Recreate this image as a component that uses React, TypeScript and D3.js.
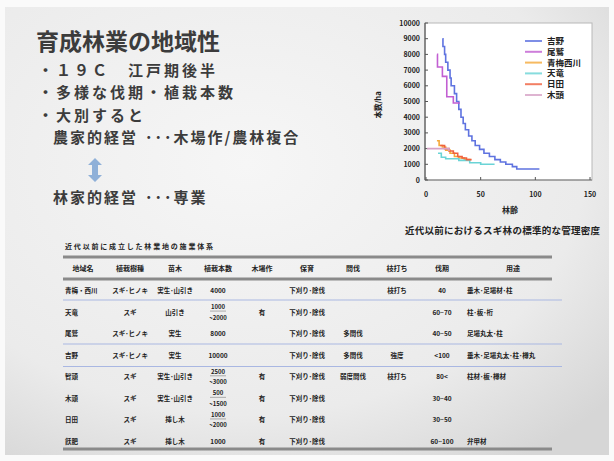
import React from "react";
import * as d3 from "d3";

const W = 614, H = 461;
const JP = "'Noto Sans CJK JP', 'Noto Sans', sans-serif";

// ---- chart data ----
const seriesNames = ["吉野", "尾鷲", "青梅西川", "天竜", "日田", "木頭"];
const seriesColors = ["#5f73e0", "#c25fd2", "#f5a93a", "#6ad4d6", "#f0603e", "#d7a2c6"];
const yoshino: [number, number][] = [[15, 9000], [15.5, 8500], [17, 8000], [18, 7500], [20, 7000], [22, 6500], [23, 6000], [26, 5500], [28, 5000], [30, 4500], [32, 4000], [34, 3600], [36, 3200], [39, 2800], [42, 2500], [45, 2200], [49, 1950], [53, 1700], [58, 1500], [63, 1300], [68, 1150], [73, 1000], [79, 850], [83, 700], [103, 650]];
const owase: [number, number][] = [[10, 8000], [10.5, 7200], [15, 6600], [19, 5300], [25, 4900], [31, 4900]];
const omeNishikawa: [number, number][] = [[10, 2500], [12, 2200], [15, 2100], [18, 1900], [22, 1700], [26, 1500], [30, 1400], [35, 1300], [40, 1250]];
const tenryu: [number, number][] = [[11, 1700], [14, 1450], [18, 1350], [30, 1250], [40, 1100], [50, 1000], [62, 950]];
const hita: [number, number][] = [[13, 2200], [17, 2000], [21, 1850], [25, 1700], [29, 1500], [33, 1400], [37, 1300], [41, 1250]];
const kito: [number, number][] = [[1, 2000], [18, 2000], [21, 1850]];
const seriesData = [yoshino, owase, omeNishikawa, tenryu, hita, kito];
const yTicks = [0, 1000, 2000, 3000, 4000, 5000, 6000, 7000, 8000, 9000, 10000];
const xTicks = [0, 50, 100, 150];

// ---- table data ----
const tableCaption = "近代以前に成立した林業地の施業体系";
const headers = ["地域名", "植栽樹種", "苗木", "植栽本数", "木場作", "保育", "間伐", "枝打ち", "伐期", "用途"];
const colRegion = ["青梅・西川", "天竜", "尾鷲", "吉野", "智頭", "木頭", "日田", "飫肥"];
const colSpecies = ["スギ･ヒノキ", "スギ", "スギ･ヒノキ", "スギ･ヒノキ", "スギ", "スギ", "スギ", "スギ"];
const colSeedling = ["実生･山引き", "山引き", "実生", "実生", "実生･山引き", "実生･山引き", "挿し木", "挿し木"];
const colDensity = ["4000", "1000|~2000", "8000", "10000", "2500|~3000", "500|~1500", "1000|~2000", "1000"];
const colKoba = ["", "有", "", "", "有", "有", "有", "有"];
const colCare = ["下刈り･除伐", "下刈り･除伐", "下刈り･除伐", "下刈り･除伐", "下刈り･除伐", "下刈り･除伐", "下刈り･除伐", "下刈り･除伐"];
const colThin = ["", "", "多間伐", "多間伐", "弱度間伐", "", "", ""];
const colPrune = ["枝打ち", "", "", "強度", "枝打ち", "", "", ""];
const colRotation = ["40", "60~70", "40~50", "<100", "80<", "30~40", "30~50", "60~100"];
const colUse = ["垂木･足場材･柱", "柱･板･桁", "足場丸太･柱", "垂木･足場丸太･柱･樽丸", "柱材･板･樽材", "", "", "弁甲材"];

export default function App() {
  // chart scales
  const x = d3.scaleLinear().domain([0, 150]).range([426, 590]);
  const y = d3.scaleLinear().domain([0, 10000]).range([180, 23]);
  const line = d3.line<[number, number]>().x(d => x(d[0])).y(d => y(d[1])).curve(d3.curveStepAfter);

  // table layout
  const colX = [83, 130, 175, 218, 262, 307, 353, 397, 442, 513];
  const rowY = d3.scalePoint<number>().domain(d3.range(8)).range([290.5, 441.5]);
  const cols = [colRegion, colSpecies, colSeedling, colDensity, colKoba, colCare, colThin, colPrune, colRotation, colUse];

  const txt = "#3c3c3c";
  const bigText = (s: string, xx: number, yy: number, size: number, ls = 0) => (
    <text x={xx} y={yy} fontSize={size} letterSpacing={ls} fontFamily={JP} fontWeight={700} fill={txt}>{s}</text>
  );

  return (
    <svg width={W} height={H} style={{ position: "absolute", left: 0, top: 0 }}>
      <defs>
        <radialGradient id="bg" cx="40%" cy="35%" r="80%">
          <stop offset="0%" stopColor="#f6f6f6" />
          <stop offset="70%" stopColor="#ebebeb" />
          <stop offset="100%" stopColor="#d6d6d6" />
        </radialGradient>
      </defs>
      <rect x={0} y={0} width={W} height={H} fill="#fafafa" />
      <rect x={5} y={7} width={W - 10} height={H - 13} fill="url(#bg)" />

      {/* left text block */}
      {bigText("育成林業の地域性", 36, 50, 23)}
      {bigText("・１９Ｃ　江戸期後半", 38, 76, 15, 3)}
      {bigText("・多様な伐期・植栽本数", 38, 98, 15, 3)}
      {bigText("・大別すると", 38, 120.5, 15, 3)}
      {bigText("農家的経営", 53, 143, 15, 2)}
      {bigText("･･･木場作/農林複合", 145, 143, 15, 2)}
      {bigText("林家的経営", 53, 203, 15, 2)}
      {bigText("･･･専業", 145, 203, 15, 2)}
      <path d="M95,158 L102,165 L98,165 L98,175 L102,175 L95,182 L88,175 L92,175 L92,165 L88,165 Z" fill="#8fb0d8" />

      {/* chart */}
      <rect x={x(0) - 1} y={y(10000)} width={x(150) - x(0) + 3} height={y(0) - y(10000)} fill="#ffffff" stroke="#b8b8b8" strokeWidth={1} />
      <line x1={x(0) - 1} x2={x(0) - 1} y1={y(10000)} y2={y(0)} stroke="#555" strokeWidth={1.2} />
      <line x1={x(0) - 1} x2={x(150) + 2} y1={y(0)} y2={y(0)} stroke="#777" strokeWidth={1.2} />
      {yTicks.map(t => (
        <g key={"yt" + t}>
          <line x1={x(0) - 1} x2={x(0) + 2} y1={y(t)} y2={y(t)} stroke="#555" />
          <text x={420} y={y(t) + 2.5} textAnchor="end" fontSize={7} fontWeight={700} fontFamily={JP} fill="#222">{t}</text>
        </g>
      ))}
      {xTicks.map(t => (
        <g key={"xt" + t}>
          <line x1={x(t)} x2={x(t)} y1={y(0)} y2={y(0) - 3} stroke="#555" />
          <text x={x(t)} y={197} textAnchor="middle" fontSize={7} fontWeight={700} fontFamily={JP} fill="#222">{t}</text>
        </g>
      ))}
      <text x={510} y={213} textAnchor="middle" fontSize={8} fontWeight={700} fontFamily={JP} fill="#222">林齢</text>
      <text transform="translate(381,105) rotate(-90)" textAnchor="middle" fontSize={7.5} fontWeight={700} fontFamily={JP} fill="#222">本数/ha</text>
      {seriesData.map((s, i) => (
        <path key={"s" + i} d={line(s) || ""} fill="none" stroke={seriesColors[i]} strokeWidth={1.6} />
      ))}
      {seriesNames.map((n, i) => (
        <g key={"lg" + i}>
          <line x1={525} x2={542} y1={41 + i * 10.8} y2={41 + i * 10.8} stroke={seriesColors[i]} strokeWidth={2} opacity={0.8} />
          <text x={547} y={44 + i * 10.8} fontSize={8.5} fontWeight={700} fontFamily={JP} fill="#222">{n}</text>
        </g>
      ))}
      <text x={405} y={234} fontSize={9.5} fontWeight={700} fontFamily={JP} fill="#222" textLength={195}>近代以前におけるスギ林の標準的な管理密度</text>

      {/* table */}
      <text x={65} y={249} fontSize={7} fontWeight={700} fontFamily={JP} fill="#222" textLength={148}>{tableCaption}</text>
      <line x1={63} x2={552} y1={257} y2={257} stroke="#8a8a8a" strokeWidth={3} />
      {headers.map((h, i) => (
        <text key={"h" + i} x={colX[i]} y={270.5} textAnchor="middle" fontSize={7} fontWeight={700} fontFamily={JP} fill="#222">{h}</text>
      ))}
      <line x1={63} x2={552} y1={279} y2={279} stroke="#8a8a8a" strokeWidth={3} />
      {[300, 344, 366.5].map(v => (
        <line key={"bl" + v} x1={63} x2={562} y1={v} y2={v} stroke="#a9b7e2" strokeWidth={1.2} />
      ))}
      <line x1={63} x2={552} y1={449} y2={449} stroke="#8a8a8a" strokeWidth={3} />
      {cols.map((col, ci) =>
        col.map((v, ri) => {
          if (!v) return null;
          const yy = rowY(ri)! + 2.5;
          const anchor = ci === 0 || ci === 9 ? "start" : "middle";
          const xx = ci === 0 ? 65 : ci === 9 ? 467 : colX[ci];
          if (v.includes("|")) {
            const [a, b] = v.split("|");
            return (
              <g key={`c${ci}-${ri}`}>
                <text x={xx} y={yy - 5.5} textAnchor={anchor} fontSize={6} fontWeight={700} fontFamily={JP} fill="#222">{a}</text>
                <line x1={xx - 8} x2={xx + 8} y1={yy - 3.5} y2={yy - 3.5} stroke="#666" strokeWidth={0.5} />
                <text x={xx} y={yy + 5} textAnchor={anchor} fontSize={6} fontWeight={700} fontFamily={JP} fill="#222">{b}</text>
              </g>
            );
          }
          return (
            <text key={`c${ci}-${ri}`} x={xx} y={yy} textAnchor={anchor} fontSize={6.5} fontWeight={700} fontFamily={JP} fill="#222">{v}</text>
          );
        })
      )}
    </svg>
  );
}
